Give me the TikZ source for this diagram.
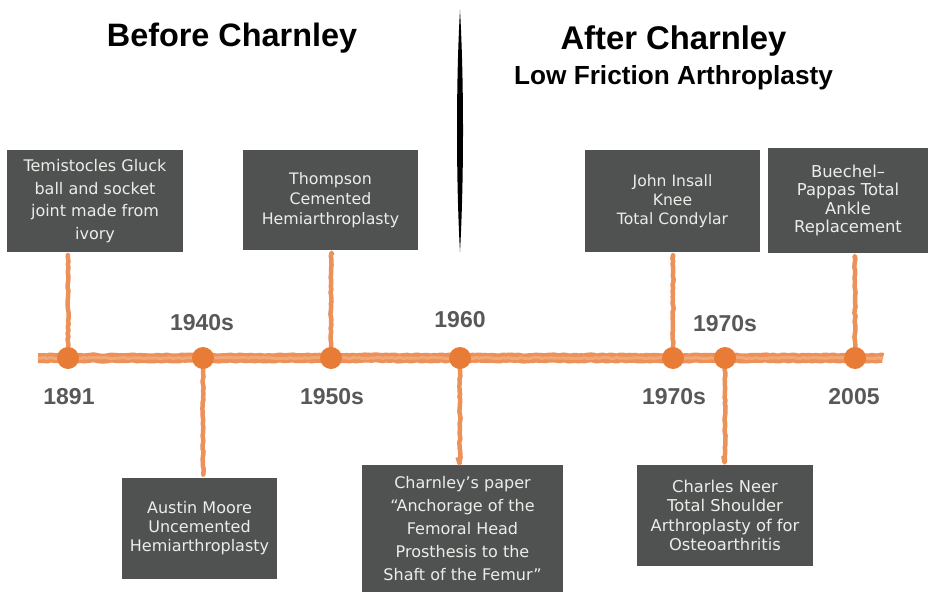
\documentclass[tikz,border=0pt]{standalone}
\usepackage{fontspec}
\setmainfont{DejaVu Sans}
\newfontfamily\headfont{Liberation Sans}
\usetikzlibrary{decorations.pathmorphing}
\definecolor{boxgray}{RGB}{80,82,81}
\definecolor{boxtext}{RGB}{236,236,233}
\definecolor{lineorange}{RGB}{236,145,88}
\definecolor{linelight}{RGB}{245,182,140}
\definecolor{dotorange}{RGB}{232,124,54}
\definecolor{yeargray}{RGB}{88,88,88}
\begin{document}
\begin{tikzpicture}[x=1pt,y=-1pt,
  eventbox/.style={fill=boxgray, text=boxtext, inner sep=0pt, align=center},
  boxfont/.style 2 args={font=\fontsize{#1}{#2}\selectfont},
  yearlabel/.style={anchor=base, text=yeargray, font=\headfont\bfseries\fontsize{23}{27}\selectfont},
  headline/.style={anchor=base, text=black, font=\headfont\bfseries\fontsize{#1}{#1}\selectfont},
  rough/.style={decorate, decoration={random steps, segment length=3pt, amplitude=0.6pt}, line join=round},
  band/.style={rough, draw=lineorange, line width=10pt},
  bandlight/.style={rough, draw=linelight, line width=3pt, opacity=0.6},
  conn/.style={rough, draw=lineorange, line width=4.5pt},
  dot/.style={circle, fill=dotorange, minimum size=22pt, inner sep=0pt}
]
\useasboundingbox (0,0) rectangle (933,591);
\fill[white] (0,0) rectangle (933,591);

% headings and the divider between the two eras
\node[headline=32.4] (before) at (232,47) {Before Charnley};
\node[headline=32.8] (after) at (673.5,50) {After Charnley};
\node[headline=26.2] (lfa) at (673.5,85) {Low Friction Arthroplasty};
\fill[black] (460,10) .. controls (464,80) and (464,180) .. (460,252)
             .. controls (456,180) and (456,80) .. (460,10);

% event boxes
\node[eventbox, boxfont={16}{22.7}, minimum width=176pt, minimum height=102pt] (gluck) at (95,201)
  {Temistocles Gluck\\ball and socket\\joint made from\\ivory};
\node[eventbox, boxfont={15.8}{20}, minimum width=175pt, minimum height=100pt] (thompson) at (330.5,200)
  {Thompson\\Cemented\\Hemiarthroplasty};
\node[eventbox, boxfont={15.6}{19}, minimum width=175pt, minimum height=102pt] (insall) at (672.5,201)
  {John Insall\\Knee\\Total Condylar};
\node[eventbox, boxfont={16.4}{18.5}, minimum width=160pt, minimum height=105pt] (buechel) at (848,200.5)
  {Buechel–\\Pappas Total\\Ankle\\Replacement};
\node[eventbox, boxfont={16}{19}, minimum width=155pt, minimum height=101pt] (moore) at (199.5,528.5)
  {Austin Moore\\Uncemented\\Hemiarthroplasty};
\node[eventbox, boxfont={16}{23}, minimum width=201pt, minimum height=127pt] (paper) at (462.5,528.5)
  {Charnley’s paper\\“Anchorage of the\\Femoral Head\\Prosthesis to the\\Shaft of the Femur”};
\node[eventbox, boxfont={16.3}{19.3}, minimum width=176pt, minimum height=101pt] (neer) at (725,515.5)
  {Charles Neer\\Total Shoulder\\Arthroplasty of for\\Osteoarthritis};

% points on the time line
\coordinate (tstart) at (38,358);
\coordinate (tend) at (883,358);
\coordinate (p1891) at (68,358);
\coordinate (p1940) at (203,358);
\coordinate (p1950) at (331,358);
\coordinate (p1960) at (460,358);
\coordinate (p1970a) at (673,358);
\coordinate (p1970b) at (725,358);
\coordinate (p2005) at (855,358);

% time line band
\draw[band] (tstart) -- (tend);
\draw[bandlight] (tstart) -- (tend);

% connectors from the boxes to the time line
\draw[conn, shorten <=5pt] (p1891 |- gluck.south) -- (p1891);
\draw[conn, shorten <=5pt] (p1950 |- thompson.south) -- (p1950);
\draw[conn, shorten <=5pt] (p1970a |- insall.south) -- (p1970a);
\draw[conn, shorten <=5pt] (p2005 |- buechel.south) -- (p2005);
\draw[conn, shorten >=6pt] (p1940) -- (p1940 |- moore.north);
\draw[conn, shorten >=8pt] (p1960) -- (p1960 |- paper.north);
\draw[conn, shorten >=9pt] (p1970b) -- (p1970b |- neer.north);

% dots
\node[dot] (d1891) at (p1891) {};
\node[dot] (d1940) at (p1940) {};
\node[dot] (d1950) at (p1950) {};
\node[dot] (d1960) at (p1960) {};
\node[dot] (d1970a) at (p1970a) {};
\node[dot] (d1970b) at (p1970b) {};
\node[dot] (d2005) at (p2005) {};

% years
\node[yearlabel] (y1891) at (69,404) {1891};
\node[yearlabel] (y1940) at (202,330) {1940s};
\node[yearlabel] (y1950) at (332,404) {1950s};
\node[yearlabel] (y1960) at (460,327) {1960};
\node[yearlabel] (y1970a) at (674,404) {1970s};
\node[yearlabel] (y1970b) at (725,331) {1970s};
\node[yearlabel] (y2005) at (854,404) {2005};
\end{tikzpicture}
\end{document}
